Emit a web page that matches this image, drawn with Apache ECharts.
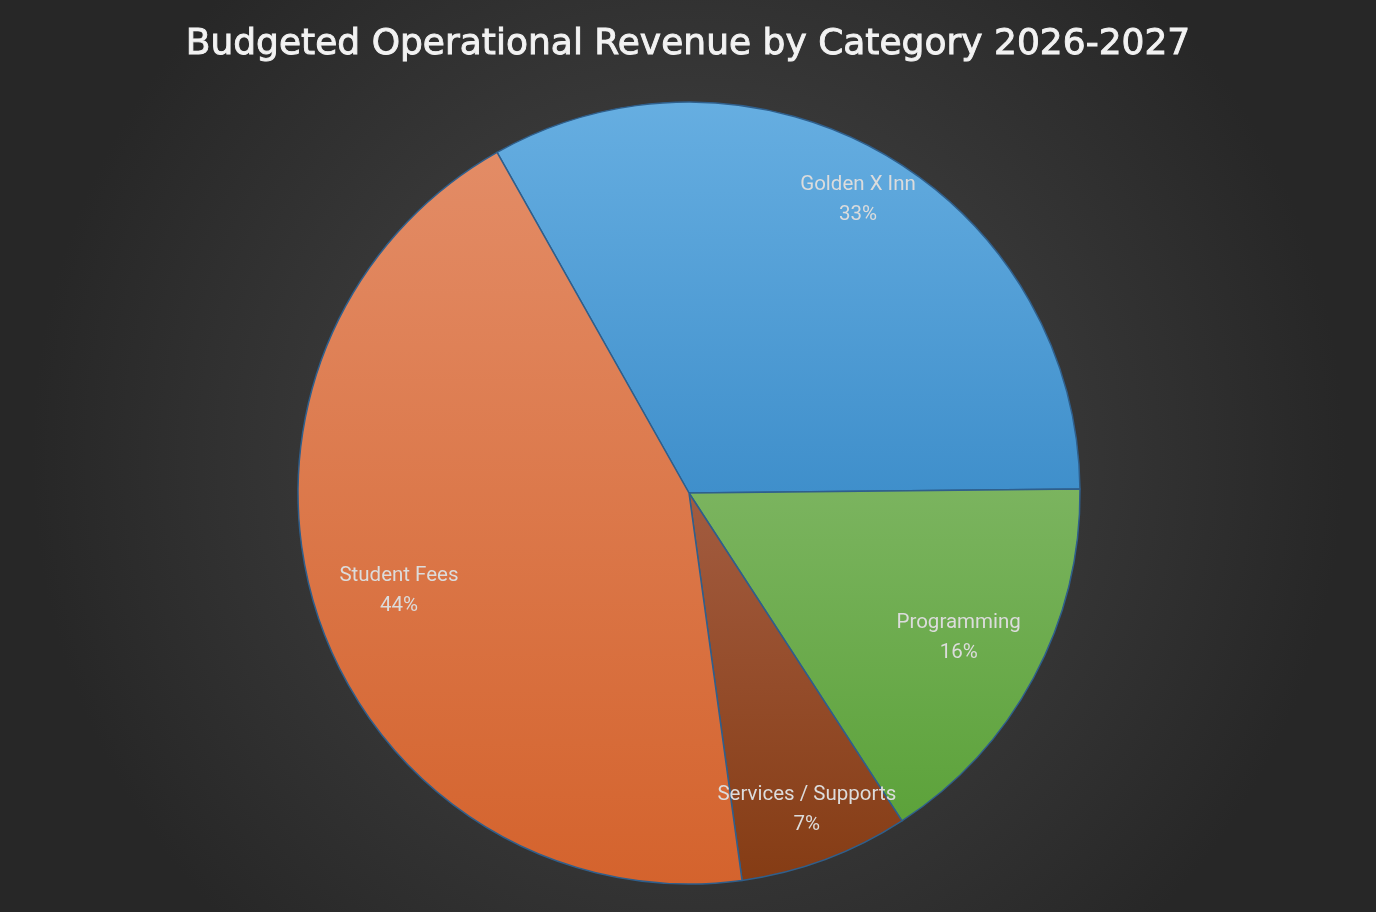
<!DOCTYPE html>
<html>
<head>
<meta charset="utf-8">
<title>Budgeted Operational Revenue by Category 2026-2027</title>
<script src="https://cdn.jsdelivr.net/npm/echarts@6/dist/echarts.min.js"></script>
<style>
  html, body { margin: 0; padding: 0; background: #2b2b2b; }
  #chart-container { width: 1376px; height: 912px; }
</style>
</head>
<body>
<div id="chart-container"></div>
<script>
var categories = ['Golden X Inn', 'Programming', 'Services / Supports', 'Student Fees'];
var values = [33, 16, 7, 44];
// light (top) / dark (bottom) fill of each slice
var topColors = ['#66aee1', '#7bb45f', '#a35c40', '#e38c66'];
var bottomColors = ['#3f8fcb', '#5ca23a', '#853c14', '#d4632d'];
// labels that Excel pushed nearer the rim
var outerLabels = ['Golden X Inn', 'Services / Supports'];

var center = [689, 493];

function sliceData() {
  return categories.map(function (name, i) {
    return {
      name: name,
      value: values[i],
      itemStyle: {
        color: {
          type: 'linear', x: 0, y: 0, x2: 0, y2: 1,
          colorStops: [
            { offset: 0, color: topColors[i] },
            { offset: 1, color: bottomColors[i] }
          ]
        }
      }
    };
  });
}

// invisible copy of the pie, only used to place labels at a given radius
function labelSeries(outer, radius) {
  return {
    type: 'pie',
    center: center,
    radius: [0, radius],
    startAngle: 119.4,
    clockwise: true,
    silent: true,
    animation: false,
    z: 5,
    itemStyle: { color: 'transparent', borderWidth: 0 },
    emphasis: { disabled: true },
    labelLine: { show: false },
    label: {
      show: true,
      position: 'inside',
      color: '#dcdcdc',
      fontFamily: 'Roboto',
      fontSize: 20.5,
      lineHeight: 30,
      align: 'center',
      formatter: function (p) {
        var isOuter = outerLabels.indexOf(p.name) >= 0;
        if (isOuter !== outer) return '';
        return p.name + '\n' + Math.round(p.percent) + '%';
      }
    },
    data: categories.map(function (name, i) {
      return { name: name, value: values[i] };
    })
  };
}

var myChart = echarts.init(document.getElementById('chart-container'));

var option = {
  backgroundColor: {
    type: 'radial', x: 0.5, y: 0.5, r: 0.72,
    colorStops: [
      { offset: 0, color: '#4a4a4a' },
      { offset: 1, color: '#272727' }
    ]
  },
  title: {
    text: 'Budgeted Operational Revenue by Category 2026-2027',
    left: 'center',
    top: 22,
    textStyle: {
      color: '#f2f2f2',
      fontFamily: 'DejaVu Sans',
      fontSize: 36,
      fontWeight: 'normal',
      textBorderColor: '#f2f2f2',
      textBorderWidth: 0.9
    }
  },
  series: [
    {
      type: 'pie',
      center: center,
      radius: [0, 391],
      startAngle: 119.4,
      clockwise: true,
      animation: false,
      label: { show: false },
      labelLine: { show: false },
      itemStyle: { borderColor: '#2f5f8c', borderWidth: 1.5 },
      emphasis: { disabled: true },
      data: sliceData()
    },
    labelSeries(true, 670),
    labelSeries(false, 606)
  ]
};

myChart.setOption(option);
</script>
</body>
</html>
